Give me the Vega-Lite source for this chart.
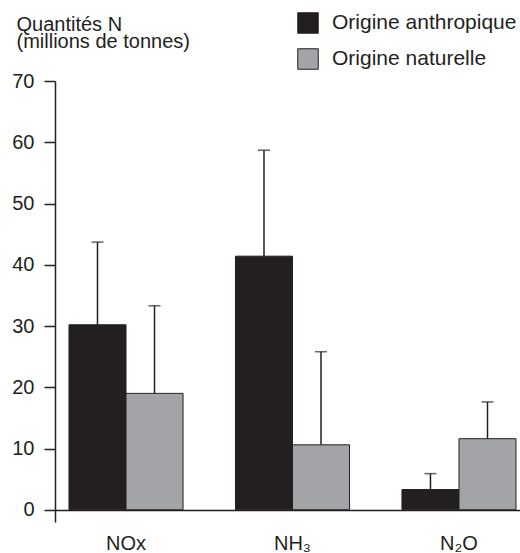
{
  "$schema": "https://vega.github.io/schema/vega-lite/v6.json",
  "usermeta": {"embedOptions": {"actions": false}},
  "autosize": {"type": "none"},
  "padding": {"left": 55, "top": 81, "right": 0, "bottom": 31},
  "width": 465,
  "height": 441,
  "background": "white",
  "config": {
    "font": "Liberation Sans",
    "view": {"stroke": null},
    "axis": {"labelColor": "#231f20", "titleColor": "#231f20", "domainColor": "#231f20", "tickColor": "#231f20", "grid": false}
  },
  "data": {
    "values": [
      {"gaz": "NOx", "origine": "Origine anthropique", "valeur": 30.2, "haut": 43.7},
      {"gaz": "NOx", "origine": "Origine naturelle", "valeur": 19.0, "haut": 33.3},
      {"gaz": "NH₃", "origine": "Origine anthropique", "valeur": 41.4, "haut": 58.7},
      {"gaz": "NH₃", "origine": "Origine naturelle", "valeur": 10.6, "haut": 25.8},
      {"gaz": "N₂O", "origine": "Origine anthropique", "valeur": 3.3, "haut": 5.9},
      {"gaz": "N₂O", "origine": "Origine naturelle", "valeur": 11.6, "haut": 17.6}
    ]
  },
  "encoding": {
    "x": {
      "field": "gaz", "type": "nominal", "sort": null,
      "scale": {"range": [0, 475], "paddingInner": 0.315, "paddingOuter": 0.084},
      "axis": {"title": null, "ticks": false, "domainWidth": 1.5, "offset": -12, "labelAngle": 0, "labelFontSize": 20, "labelPadding": 23, "labelBaseline": "top"}
    },
    "xOffset": {"field": "origine", "type": "nominal", "scale": {"paddingInner": 0, "paddingOuter": 0}}
  },
  "layer": [
    {
      "mark": {"type": "rule", "color": "#231f20", "strokeWidth": 1.5},
      "encoding": {
        "y": {"field": "valeur", "type": "quantitative"},
        "y2": {"field": "haut"}
      }
    },
    {
      "mark": {"type": "tick", "color": "#231f20", "thickness": 1.5, "size": 12, "orient": "horizontal"},
      "encoding": {
        "y": {"field": "haut", "type": "quantitative"}
      }
    },
    {
      "mark": {"type": "bar", "stroke": "#231f20", "strokeWidth": 1},
      "encoding": {
        "y": {
          "field": "valeur", "type": "quantitative",
          "scale": {"domain": [-2, 70], "nice": false, "zero": false},
          "axis": {
            "values": [0, 10, 20, 30, 40, 50, 60, 70],
            "tickSize": 11, "tickWidth": 1.5, "domainWidth": 1.5,
            "labelFontSize": 20, "labelPadding": 10,
            "title": ["Quantités N", "(millions de tonnes)"],
            "titleAngle": 0, "titleAlign": "left", "titleBaseline": "alphabetic",
            "titleX": -39, "titleY": -51, "titleFontSize": 20, "titleFontWeight": "normal", "titleLineHeight": 17
          }
        },
        "y2": {"datum": 0},
        "color": {
          "field": "origine", "type": "nominal",
          "scale": {"domain": ["Origine anthropique", "Origine naturelle"], "range": ["#231f20", "#a2a4a7"]},
          "legend": {
            "title": null, "orient": "none", "legendX": 242, "legendY": -69,
            "symbolType": "square", "symbolSize": 420, "symbolStrokeColor": "#231f20", "symbolStrokeWidth": 1,
            "labelFontSize": 21, "labelLimit": 400, "labelColor": "#231f20", "labelOffset": 13, "rowPadding": 10, "padding": 0
          }
        }
      }
    }
  ]
}
